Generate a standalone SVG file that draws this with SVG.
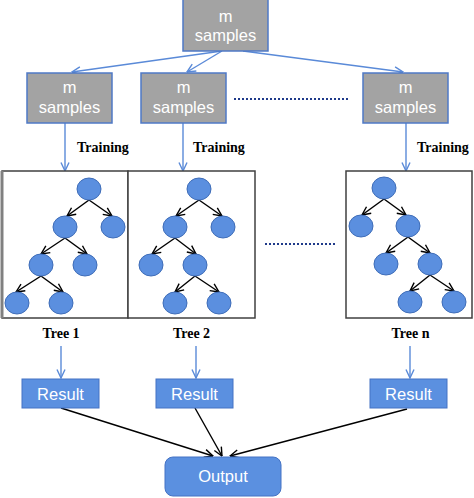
<svg xmlns="http://www.w3.org/2000/svg" width="474" height="498" viewBox="0 0 474 498">
<defs>
<marker id="ab" viewBox="0 0 10 10" refX="9.5" refY="5" markerWidth="10" markerHeight="10" markerUnits="userSpaceOnUse" orient="auto"><path d="M1,1 L9.5,5 L1,9" fill="none" stroke="#5A8AD8" stroke-width="1.4"/></marker>
<marker id="ak" viewBox="0 0 10 10" refX="9.5" refY="5" markerWidth="10" markerHeight="10" markerUnits="userSpaceOnUse" orient="auto"><path d="M1,1 L9.5,5 L1,9" fill="none" stroke="#000" stroke-width="1.4"/></marker>
<style>
.gbox{fill:#A3A3A3;stroke:#4F79C6;stroke-width:1.5}
.bbox{fill:#5B90E0;stroke:#4472C4;stroke-width:1}
.wt{font-family:"Liberation Sans",Arial,sans-serif;font-size:16.5px;fill:#fff;text-anchor:middle}
.lb{font-family:"Liberation Serif","Times New Roman",serif;font-size:14px;font-weight:bold;fill:#000}
.bl{stroke:#5A8AD8;stroke-width:1.4;fill:none;marker-end:url(#ab)}
.bk{stroke:#000;stroke-width:1.4;fill:none;marker-end:url(#ak)}
.nd{fill:#5B8FDF;stroke:#3F6DB8;stroke-width:1}
.panel{fill:#fff;stroke:#404040;stroke-width:1.5}
.dot{stroke:#1F3A8A;stroke-width:2;stroke-dasharray:2,2;fill:none}
</style>
</defs>
<rect width="474" height="498" fill="#fff"/>

<g id="connectors">
<line class="bl" x1="222" y1="51" x2="72" y2="72"/>
<line class="bl" x1="222" y1="51" x2="187" y2="72"/>
<line class="bl" x1="243" y1="51" x2="403" y2="72"/>
<line class="bl" x1="65" y1="123" x2="65" y2="171"/>
<line class="bl" x1="183" y1="123" x2="183" y2="171"/>
<line class="bl" x1="406" y1="123" x2="406" y2="171"/>
<line class="bl" x1="61" y1="346" x2="61" y2="378"/>
<line class="bl" x1="196" y1="346" x2="196" y2="378"/>
<line class="bl" x1="410" y1="346" x2="410" y2="378"/>
<line class="bk" x1="61" y1="408" x2="213" y2="456"/>
<line class="bk" x1="195" y1="408" x2="222" y2="456"/>
<line class="bk" x1="407" y1="409" x2="230" y2="456"/>
<line class="dot" x1="234" y1="99" x2="349" y2="99"/>
<line class="dot" x1="265" y1="244" x2="337" y2="244"/>
</g>

<g id="top-samples">
<rect class="gbox" x="183" y="-1" width="85" height="52"/>
<text class="wt" x="225.5" y="22">m</text>
<text class="wt" x="225.5" y="41">samples</text>
</g>
<g id="samples-1">
<rect class="gbox" x="27" y="73" width="85" height="50"/>
<text class="wt" x="69.5" y="93">m</text>
<text class="wt" x="69.5" y="113">samples</text>
</g>
<g id="samples-2">
<rect class="gbox" x="141" y="73" width="85" height="50"/>
<text class="wt" x="183.5" y="93">m</text>
<text class="wt" x="183.5" y="113">samples</text>
</g>
<g id="samples-n">
<rect class="gbox" x="363" y="73" width="85" height="50"/>
<text class="wt" x="405.5" y="93">m</text>
<text class="wt" x="405.5" y="113">samples</text>
</g>

<g id="training-labels">
<text class="lb" x="77" y="152">Training</text>
<text class="lb" x="193" y="152">Training</text>
<text class="lb" x="417" y="152">Training</text>
</g>

<g id="tree-1">
<rect class="panel" x="2" y="171" width="126" height="147"/>
<line x1="2" y1="171" x2="2" y2="318" stroke="#808080" stroke-width="3"/>
<line class="bk" x1="89" y1="200" x2="67" y2="216"/>
<line class="bk" x1="89" y1="200" x2="112" y2="216"/>
<line class="bk" x1="65" y1="238" x2="41" y2="254"/>
<line class="bk" x1="65" y1="238" x2="87" y2="254"/>
<line class="bk" x1="41" y1="276" x2="16" y2="292"/>
<line class="bk" x1="41" y1="276" x2="63" y2="292"/>
<ellipse class="nd" cx="89" cy="189" rx="12" ry="11"/>
<ellipse class="nd" cx="65" cy="227" rx="12" ry="11"/>
<ellipse class="nd" cx="113" cy="227" rx="12" ry="11"/>
<ellipse class="nd" cx="41" cy="265" rx="12" ry="11"/>
<ellipse class="nd" cx="85" cy="265" rx="12" ry="11"/>
<ellipse class="nd" cx="17" cy="303" rx="12" ry="11"/>
<ellipse class="nd" cx="61" cy="303" rx="12" ry="11"/>
</g>

<g id="tree-2">
<rect class="panel" x="128" y="171" width="127" height="147"/>
<line class="bk" x1="199" y1="200" x2="176" y2="216"/>
<line class="bk" x1="199" y1="200" x2="222" y2="216"/>
<line class="bk" x1="175" y1="238" x2="152" y2="254"/>
<line class="bk" x1="175" y1="238" x2="196" y2="254"/>
<line class="bk" x1="195" y1="276" x2="175" y2="292"/>
<line class="bk" x1="195" y1="276" x2="219" y2="292"/>
<ellipse class="nd" cx="199" cy="189" rx="12" ry="11"/>
<ellipse class="nd" cx="175" cy="227" rx="12" ry="11"/>
<ellipse class="nd" cx="223" cy="227" rx="12" ry="11"/>
<ellipse class="nd" cx="151" cy="265" rx="12" ry="11"/>
<ellipse class="nd" cx="195" cy="265" rx="12" ry="11"/>
<ellipse class="nd" cx="175" cy="303" rx="12" ry="11"/>
<ellipse class="nd" cx="219" cy="303" rx="12" ry="11"/>
</g>

<g id="tree-n">
<rect class="panel" x="346" y="171" width="126" height="147"/>
<line class="bk" x1="384" y1="199" x2="362" y2="215"/>
<line class="bk" x1="384" y1="199" x2="406" y2="215"/>
<line class="bk" x1="408" y1="237" x2="386" y2="253"/>
<line class="bk" x1="408" y1="237" x2="430" y2="253"/>
<line class="bk" x1="430" y1="275" x2="410" y2="291"/>
<line class="bk" x1="430" y1="275" x2="454" y2="291"/>
<ellipse class="nd" cx="384" cy="188" rx="12" ry="11"/>
<ellipse class="nd" cx="361" cy="226" rx="12" ry="11"/>
<ellipse class="nd" cx="408" cy="226" rx="12" ry="11"/>
<ellipse class="nd" cx="386" cy="264" rx="12" ry="11"/>
<ellipse class="nd" cx="430" cy="264" rx="12" ry="11"/>
<ellipse class="nd" cx="410" cy="302" rx="12" ry="11"/>
<ellipse class="nd" cx="454" cy="302" rx="12" ry="11"/>
</g>

<g id="tree-labels">
<text class="lb" x="61" y="338" text-anchor="middle">Tree 1</text>
<text class="lb" x="191.5" y="338" text-anchor="middle">Tree 2</text>
<text class="lb" x="410.5" y="338" text-anchor="middle">Tree n</text>
</g>

<g id="result-1">
<rect class="bbox" x="22" y="379" width="77" height="29"/>
<text class="wt" x="60.5" y="399.5">Result</text>
</g>
<g id="result-2">
<rect class="bbox" x="156" y="379" width="77" height="29"/>
<text class="wt" x="194.5" y="399.5">Result</text>
</g>
<g id="result-n">
<rect class="bbox" x="370" y="379" width="77" height="29"/>
<text class="wt" x="408.5" y="399.5">Result</text>
</g>
<g id="output">
<rect class="bbox" x="165" y="457" width="116" height="39" rx="8"/>
<text class="wt" x="223" y="482">Output</text>
</g>
</svg>
